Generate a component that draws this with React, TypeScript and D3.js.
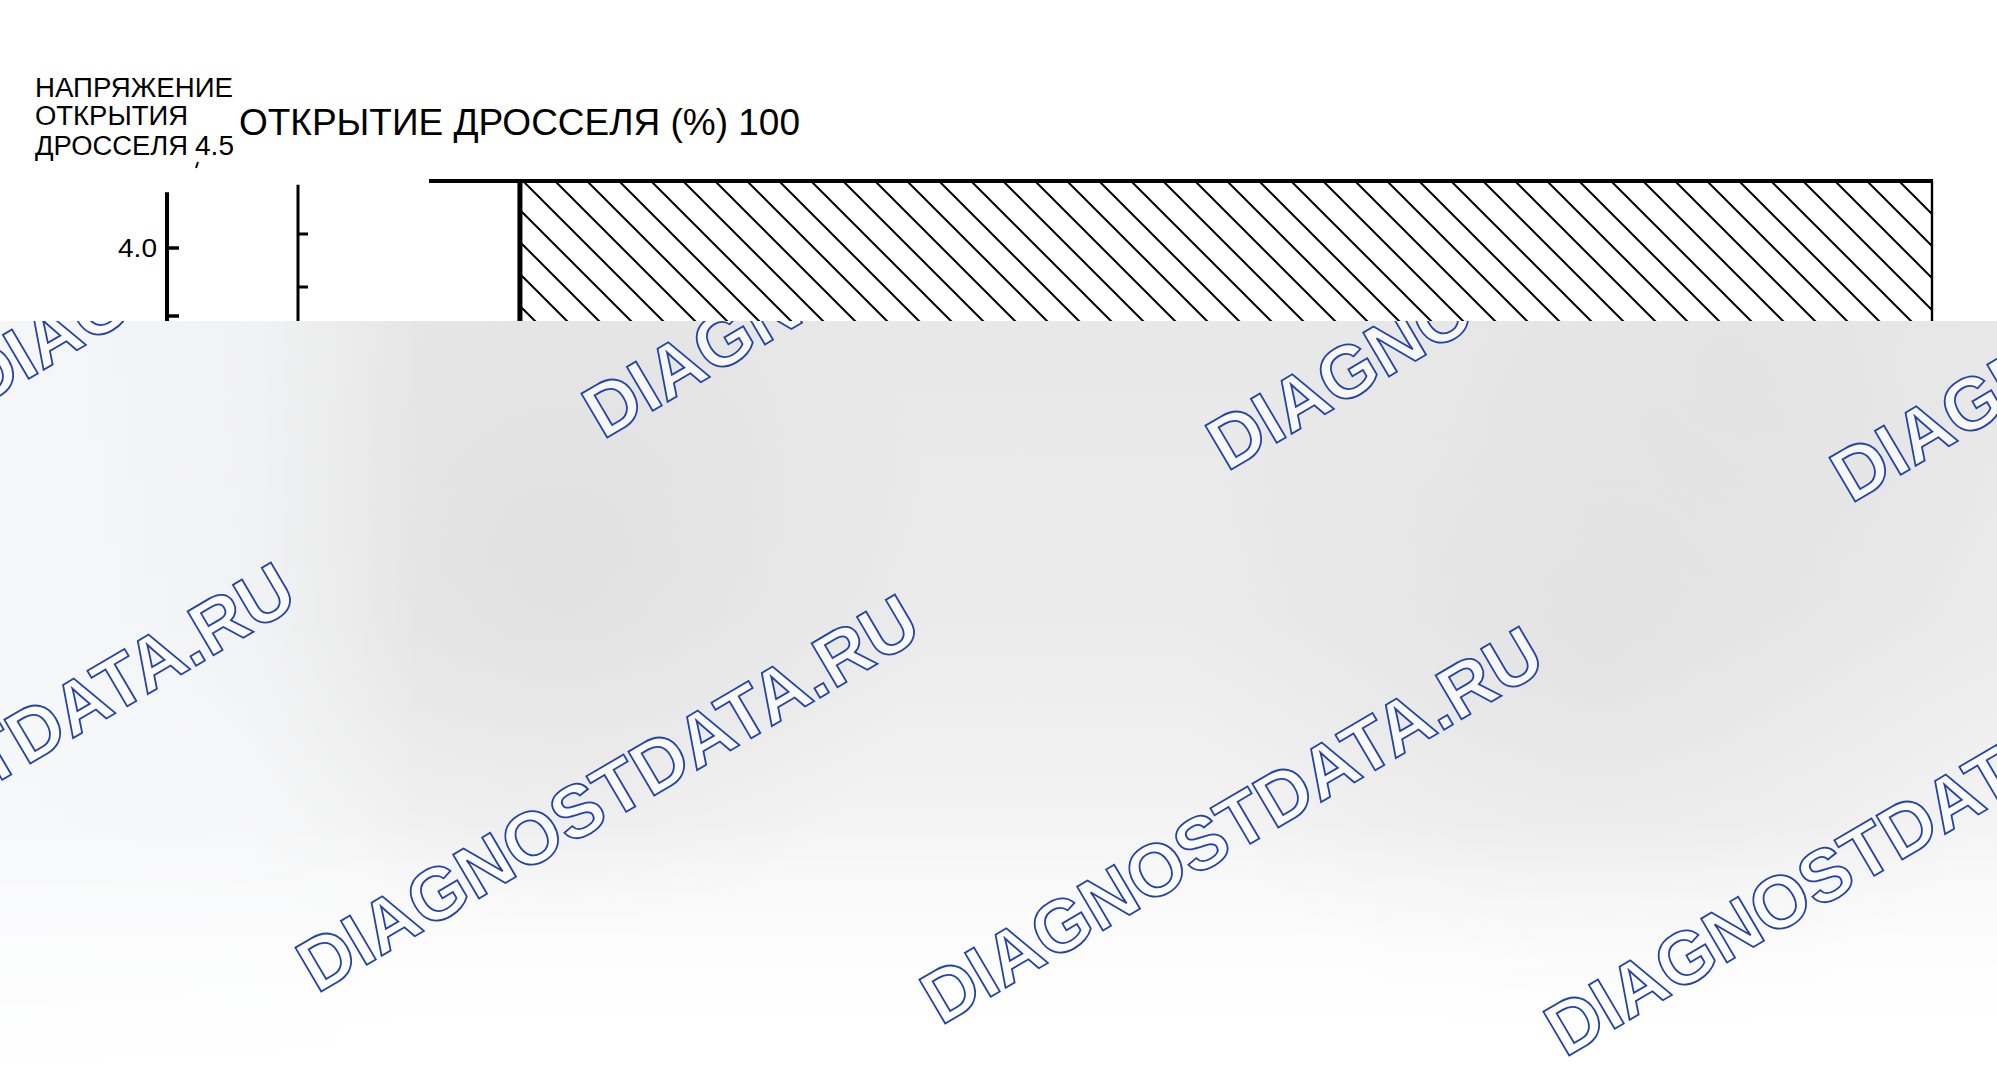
import { useEffect, useRef } from "react";
import * as d3 from "d3";

// header texts
const voltageTitle = ["НАПРЯЖЕНИЕ", "ОТКРЫТИЯ", "ДРОССЕЛЯ"];
const openingTitle = "ОТКРЫТИЕ ДРОССЕЛЯ (%) 100";

// left axis: throttle voltage (V)
const voltageTop = 4.5;
const voltageTicks = [4.0, 3.5];
const voltageLabels = ["4.0"];

// second axis: throttle opening (%)
const openingTicks = [90, 80];
const fullOpening = 100;

// x positions (arbitrary time units), the 100 % line and the hatched zone
const timeDomain = [0, 100];
const fullLineFrom = 0;
const hatchFrom = 6.05;
const hatchTo = 100;

// watermark grid
const watermarkText = "DIAGNOSTDATA.RU";
const watermarkCols = [-1, 0, 1, 2];
const watermarkRows = [0, 1];

const W = 1997;
const H = 1071;

export default function App() {
  const svgRef = useRef<SVGSVGElement>(null);

  useEffect(() => {
    if (!svgRef.current) return;
    const svg = d3.select(svgRef.current);
    svg.selectAll("*").remove();

    const font = "'Liberation Sans', Arial, sans-serif";

    const x = d3.scaleLinear().domain(timeDomain).range([429, 1932]);
    const yV = d3.scaleLinear().domain([3.5, 4.5]).range([316, 180]);
    const yP = d3.scaleLinear().domain([80, 100]).range([287, 181]);

    const defs = svg.append("defs");

    // hatch pattern (45°, 32 px step)
    const pat = defs
      .append("pattern")
      .attr("id", "hatch")
      .attr("patternUnits", "userSpaceOnUse")
      .attr("width", 32)
      .attr("height", 32)
      .attr("patternTransform", "translate(0,10)");
    pat
      .append("path")
      .attr("d", "M-8,-8 L40,40 M-8,24 L8,40 M24,-8 L40,8")
      .attr("stroke", "#000")
      .attr("stroke-width", 2)
      .attr("fill", "none");

    svg.append("rect").attr("width", W).attr("height", H).attr("fill", "#fff");

    // ---- chart (top part) ----
    const g = svg.append("g");

    // hatched region
    g.append("rect")
      .attr("x", x(hatchFrom))
      .attr("y", yP(fullOpening))
      .attr("width", x(hatchTo) - x(hatchFrom))
      .attr("height", 500)
      .attr("fill", "url(#hatch)");
    g.append("line")
      .attr("x1", x(hatchFrom))
      .attr("x2", x(hatchFrom))
      .attr("y1", yP(fullOpening))
      .attr("y2", 700)
      .attr("stroke", "#000")
      .attr("stroke-width", 5);
    g.append("line")
      .attr("x1", x(hatchTo))
      .attr("x2", x(hatchTo))
      .attr("y1", yP(fullOpening))
      .attr("y2", 700)
      .attr("stroke", "#000")
      .attr("stroke-width", 2.4);
    g.append("line")
      .attr("x1", x(fullLineFrom))
      .attr("x2", x(hatchTo) + 1)
      .attr("y1", yP(fullOpening))
      .attr("y2", yP(fullOpening))
      .attr("stroke", "#000")
      .attr("stroke-width", 4);

    // voltage axis
    g.append("line")
      .attr("x1", 167)
      .attr("x2", 167)
      .attr("y1", yV(4.41))
      .attr("y2", 700)
      .attr("stroke", "#000")
      .attr("stroke-width", 4);
    g.selectAll(".vtick")
      .data(voltageTicks)
      .enter()
      .append("line")
      .attr("x1", 167)
      .attr("x2", 179)
      .attr("y1", (d) => yV(d))
      .attr("y2", (d) => yV(d))
      .attr("stroke", "#000")
      .attr("stroke-width", 3.5);
    g.selectAll(".vlabel")
      .data(voltageLabels)
      .enter()
      .append("text")
      .attr("x", 118)
      .attr("y", (d) => yV(+d) + 9)
      .attr("font-family", font)
      .attr("font-size", 26)
      .attr("textLength", 39)
      .attr("lengthAdjust", "spacingAndGlyphs")
      .text((d) => d);

    // opening axis
    g.append("line")
      .attr("x1", 298)
      .attr("x2", 298)
      .attr("y1", yP(99.3))
      .attr("y2", 700)
      .attr("stroke", "#000")
      .attr("stroke-width", 3);
    g.selectAll(".ptick")
      .data(openingTicks)
      .enter()
      .append("line")
      .attr("x1", 298)
      .attr("x2", 308)
      .attr("y1", (d) => yP(d))
      .attr("y2", (d) => yP(d))
      .attr("stroke", "#000")
      .attr("stroke-width", 3);

    // header texts
    const lens = [198, 153, 153];
    const baselines = [97, 125, 155];
    voltageTitle.forEach((t, i) => {
      g.append("text")
        .attr("x", 35)
        .attr("y", baselines[i])
        .attr("font-family", font)
        .attr("font-size", 27)
        .attr("textLength", lens[i])
        .attr("lengthAdjust", "spacingAndGlyphs")
        .text(t);
    });
    g.append("text")
      .attr("x", 195)
      .attr("y", 155)
      .attr("font-family", font)
      .attr("font-size", 27)
      .attr("textLength", 39)
      .attr("lengthAdjust", "spacingAndGlyphs")
      .text(d3.format(".1f")(voltageTop));
    g.append("line")
      .attr("x1", 198)
      .attr("x2", 196)
      .attr("y1", 162)
      .attr("y2", 168)
      .attr("stroke", "#000")
      .attr("stroke-width", 2);
    g.append("text")
      .attr("x", 239)
      .attr("y", 135)
      .attr("font-family", font)
      .attr("font-size", 37)
      .attr("textLength", 561)
      .attr("lengthAdjust", "spacingAndGlyphs")
      .text(openingTitle);

    // ---- grey overlay (bottom part) ----
    const top = 321;
    const vg = defs
      .append("linearGradient")
      .attr("id", "vgrad")
      .attr("gradientUnits", "userSpaceOnUse")
      .attr("x1", 0)
      .attr("y1", top)
      .attr("x2", 0)
      .attr("y2", H);
    [
      [0, "#e8e8e8"],
      [0.4, "#ebebeb"],
      [0.72, "#f5f5f5"],
      [0.9, "#fdfdfd"],
      [1, "#ffffff"],
    ].forEach(([o, c]) => vg.append("stop").attr("offset", o).attr("stop-color", c));

    const hg = defs
      .append("linearGradient")
      .attr("id", "hgrad")
      .attr("gradientUnits", "userSpaceOnUse")
      .attr("x1", 0)
      .attr("y1", 0)
      .attr("x2", 420)
      .attr("y2", 0);
    hg.append("stop").attr("offset", 0).attr("stop-color", "#f8f9fb").attr("stop-opacity", 0.85);
    hg.append("stop").attr("offset", 0.6).attr("stop-color", "#f8f9fb").attr("stop-opacity", 0.6);
    hg.append("stop").attr("offset", 1).attr("stop-color", "#f8f9fb").attr("stop-opacity", 0);

    const blobs = [
      { id: "b1", cx: 560, cy: 560, r: 380, c: "#d9d9d9", o: 0.55 },
      { id: "b2", cx: 1600, cy: 640, r: 420, c: "#dadada", o: 0.5 },
      { id: "b3", cx: 1750, cy: 380, r: 300, c: "#e0e0e0", o: 0.5 },
    ];
    blobs.forEach((b) => {
      const rg = defs
        .append("radialGradient")
        .attr("id", b.id)
        .attr("gradientUnits", "userSpaceOnUse")
        .attr("cx", b.cx)
        .attr("cy", b.cy)
        .attr("r", b.r);
      rg.append("stop").attr("offset", 0).attr("stop-color", b.c).attr("stop-opacity", b.o);
      rg.append("stop").attr("offset", 1).attr("stop-color", b.c).attr("stop-opacity", 0);
    });

    defs
      .append("clipPath")
      .attr("id", "greyClip")
      .append("rect")
      .attr("x", 0)
      .attr("y", top)
      .attr("width", W)
      .attr("height", H - top);

    const grey = svg.append("g").attr("clip-path", "url(#greyClip)");
    grey.append("rect").attr("x", 0).attr("y", top).attr("width", W).attr("height", H - top).attr("fill", "url(#vgrad)");
    blobs.forEach((b) => {
      grey.append("rect").attr("x", 0).attr("y", top).attr("width", W).attr("height", H - top).attr("fill", `url(#${b.id})`);
    });
    grey.append("rect").attr("x", 0).attr("y", top).attr("width", 420).attr("height", H - top).attr("fill", "url(#hgrad)");
    const bottomFade = defs
      .append("linearGradient")
      .attr("id", "bfade")
      .attr("gradientUnits", "userSpaceOnUse")
      .attr("x1", 0)
      .attr("y1", 820)
      .attr("x2", 0)
      .attr("y2", H);
    bottomFade.append("stop").attr("offset", 0).attr("stop-color", "#fff").attr("stop-opacity", 0);
    bottomFade.append("stop").attr("offset", 1).attr("stop-color", "#fff").attr("stop-opacity", 0.95);
    grey.append("rect").attr("x", 0).attr("y", 820).attr("width", W).attr("height", H - 820).attr("fill", "url(#bfade)");

    // watermarks
    const origin = { x: 603, y: 440 };
    const colStep = { x: 624, y: 32 };
    const rowStep = { x: -286, y: 554 };
    const cells = watermarkRows.flatMap((r) => watermarkCols.map((c) => ({ r, c })));
    grey
      .selectAll(".wm")
      .data(cells)
      .enter()
      .append("text")
      .attr(
        "transform",
        (d) =>
          `translate(${origin.x + d.c * colStep.x + d.r * rowStep.x},${origin.y + d.c * colStep.y + d.r * rowStep.y}) rotate(-30.5)`
      )
      .attr("font-family", font)
      .attr("font-weight", "bold")
      .attr("font-size", 74)
      .attr("textLength", 705)
      .attr("lengthAdjust", "spacingAndGlyphs")
      .attr("fill", "#ffffff")
      .attr("fill-opacity", 0.7)
      .attr("stroke", "#2243a8")
      .attr("stroke-width", 1.8)
      .text(watermarkText);
  }, []);

  return (
    <svg
      ref={svgRef}
      width={W}
      height={H}
      style={{ position: "absolute", left: 0, top: 0, display: "block" }}
    />
  );
}
